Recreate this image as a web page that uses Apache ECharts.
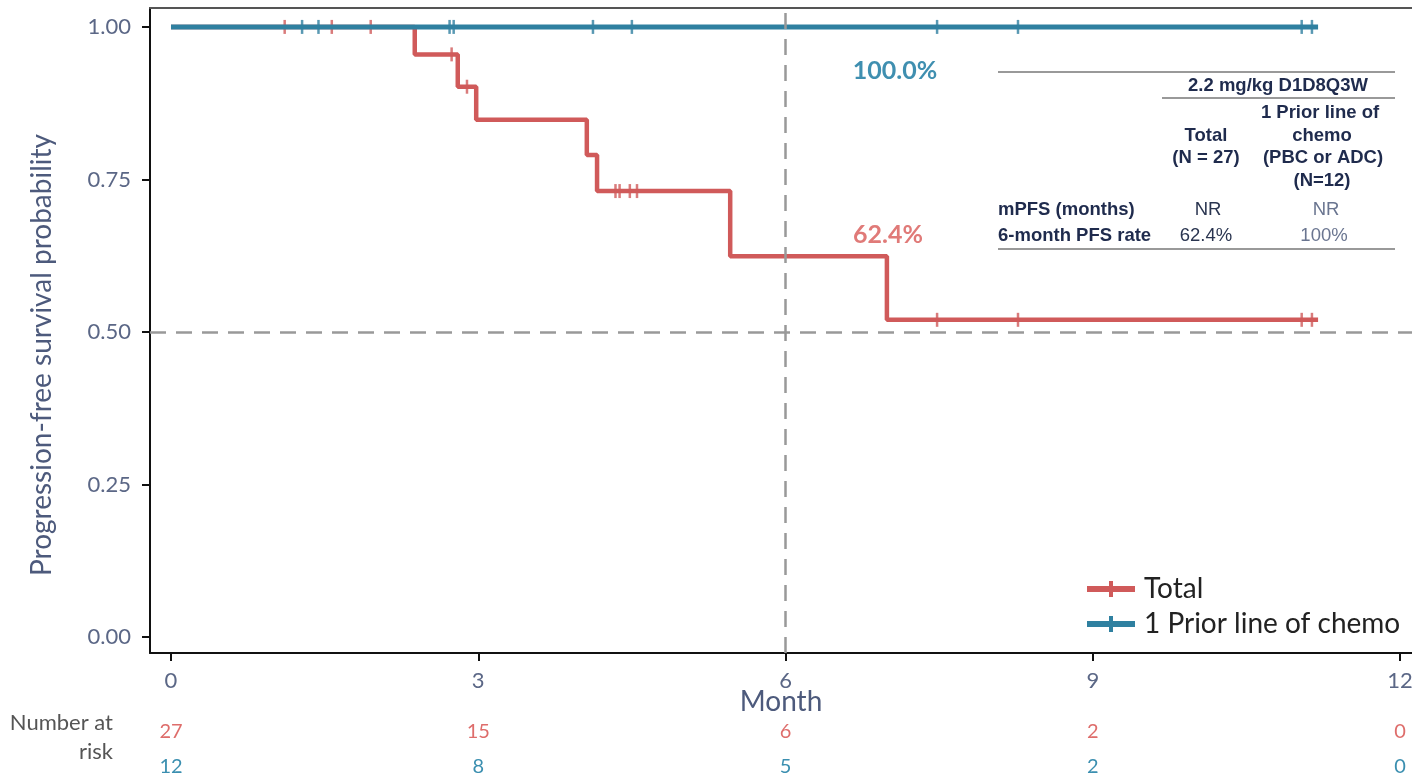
<!DOCTYPE html>
<html>
<head>
<meta charset="utf-8">
<script src="https://cdn.jsdelivr.net/npm/echarts@6/dist/echarts.min.js"></script>
<style>
  html, body { margin: 0; padding: 0; background: #fff; }
  #chart { width: 1412px; height: 777px; }
</style>
</head>
<body>
<div id="chart"></div>
<script>
// tick labels
const monthTicks = [0, 3, 6, 9, 12];
const probTicks = [0, 0.25, 0.5, 0.75, 1];

// KM curve, Total (N = 27): time of each step and survival after it
const totalTimes = [0, 2.38, 2.80, 2.98, 4.06, 4.16, 5.46, 6.99, 11.2];
const totalSurv = [1, 0.955, 0.902, 0.848, 0.790, 0.731, 0.624, 0.520, 0.520];
// censored patients, Total
const totalCensorTimes = [1.11, 1.57, 1.95, 2.74, 2.89, 4.34, 4.38, 4.48, 4.55, 7.48, 8.27, 11.04, 11.14];
const totalCensorSurv = [1, 1, 1, 0.955, 0.902, 0.731, 0.731, 0.731, 0.731, 0.520, 0.520, 0.520, 0.520];

// KM curve, 1 prior line of chemo (N = 12)
const chemoTimes = [0, 11.2];
const chemoSurv = [1, 1];
const chemoCensorTimes = [1.28, 1.44, 2.72, 2.76, 4.12, 4.50, 7.48, 8.27, 11.04, 11.14];
const chemoCensorSurv = [1, 1, 1, 1, 1, 1, 1, 1, 1, 1];

// number at risk at each month tick
const riskTotal = [27, 15, 6, 2, 0];
const riskChemo = [12, 8, 5, 2, 0];

const RED = '#d05a5a';
const BLUE = '#2f80a0';
const AXIS_TXT = '#5b6786';
const TABLE_TXT = '#1f2b4d';

function pairs(xs, ys) {
  return xs.map((x, i) => [x, ys[i]]);
}

const chart = echarts.init(document.getElementById('chart'));

// axis ranges a little wider than the data, like ggplot's expansion
const xMin = -0.205, xMax = 12.117;
const yMin = -0.026, yMax = 1.031;

function riskAxis(arr, color, offset) {
  return {
    type: 'value', min: xMin, max: xMax, position: 'bottom', offset: offset,
    axisLine: { show: false }, axisTick: { show: false }, splitLine: { show: false },
    axisLabel: {
      customValues: monthTicks, margin: 8, fontSize: 20, color: color, fontFamily: 'Lato',
      formatter: v => String(arr[monthTicks.indexOf(v)])
    }
  };
}

function tableText(text, x, y, opts) {
  return {
    type: 'text', x: x, y: y,
    style: Object.assign({ text: text, fontSize: 18.5, fontWeight: 'bold', fill: TABLE_TXT,
      fontFamily: 'Liberation Sans', align: 'center', verticalAlign: 'middle' }, opts || {})
  };
}

const option = {
  animation: false,
  grid: { left: 150, right: 0, top: 8, bottom: 124, outerBoundsMode: 'none', containLabel: false },
  legend: {
    orient: 'vertical', left: 1082, top: 570, itemGap: 7,
    itemWidth: 48, itemHeight: 16,
    data: [
      { name: 'Total', icon: 'path://M0,5h48v6h-48z M22,0h4v16h-4z' },
      { name: '1 Prior line of chemo', icon: 'path://M0,5h48v6h-48z M22,0h4v16h-4z' }
    ],
    textStyle: { fontSize: 28, color: '#222', fontFamily: 'Lato', padding: [0, 0, 0, 4] }
  },
  xAxis: [
    {
      type: 'value', min: xMin, max: xMax,
      name: 'Month', nameLocation: 'middle', nameGap: 35, nameMoveOverlap: false,
      nameTextStyle: { fontSize: 28, color: '#4d5a7c', fontFamily: 'Lato' },
      axisLine: { onZero: false, lineStyle: { color: '#111', width: 2 } },
      axisTick: { customValues: monthTicks, length: 8, lineStyle: { color: '#111', width: 2 } },
      axisLabel: { customValues: monthTicks, fontSize: 22, color: AXIS_TXT, fontFamily: 'Lato', margin: 17 },
      splitLine: { show: false }
    },
    riskAxis(riskTotal, '#de6d6b', 61),
    riskAxis(riskChemo, '#3b8fb0', 96),
    {
      // top border of the panel
      type: 'value', min: xMin, max: xMax, position: 'top',
      axisLine: { show: true, onZero: false, lineStyle: { color: '#555', width: 2 } },
      axisTick: { show: false }, axisLabel: { show: false }, splitLine: { show: false }
    }
  ],
  yAxis: {
    type: 'value', min: yMin, max: yMax,
    axisLine: { show: true, onZero: false, lineStyle: { color: '#111', width: 2 } },
    axisTick: { show: true, customValues: probTicks, length: 8, lineStyle: { color: '#111', width: 2 } },
    axisLabel: {
      customValues: probTicks, fontSize: 22, color: AXIS_TXT, fontFamily: 'Lato', margin: 19,
      formatter: v => v.toFixed(2)
    },
    splitLine: { show: false }
  },
  series: [
    {
      name: 'Total', type: 'line', step: 'end', showSymbol: false,
      data: pairs(totalTimes, totalSurv),
      lineStyle: { color: RED, width: 4.5 }, itemStyle: { color: RED },
      markLine: {
        silent: true, symbol: 'none', label: { show: false },
        lineStyle: { color: '#999', width: 2.5, type: [16, 10] },
        data: [{ xAxis: 6 }, { yAxis: 0.5 }]
      },
      z: 3
    },
    {
      name: 'Total', type: 'scatter', data: pairs(totalCensorTimes, totalCensorSurv),
      symbol: 'rect', symbolSize: [2.5, 14], itemStyle: { color: RED }, z: 3
    },
    {
      name: '1 Prior line of chemo', type: 'line', step: 'end', showSymbol: false,
      data: pairs(chemoTimes, chemoSurv),
      lineStyle: { color: BLUE, width: 5 }, itemStyle: { color: BLUE }, z: 4
    },
    {
      name: '1 Prior line of chemo', type: 'scatter', data: pairs(chemoCensorTimes, chemoCensorSurv),
      symbol: 'rect', symbolSize: [2.5, 14], itemStyle: { color: BLUE }, z: 4
    }
  ],
  graphic: [
    {
      type: 'text', x: 42, y: 355, rotation: Math.PI / 2,
      style: { text: 'Progression-free survival probability', fontSize: 28, fill: '#4d5a7c',
               fontFamily: 'Lato', align: 'center', verticalAlign: 'middle' }
    },
    { type: 'text', x: 113, y: 723, style: { text: 'Number at', fontSize: 22, fill: '#555', fontFamily: 'Lato', align: 'right', verticalAlign: 'middle' } },
    { type: 'text', x: 113, y: 752, style: { text: 'risk', fontSize: 22, fill: '#555', fontFamily: 'Lato', align: 'right', verticalAlign: 'middle' } },
    { type: 'text', x: 895, y: 71, style: { text: '100.0%', fontSize: 25, fontWeight: 'bold', fill: '#3f8fb0', fontFamily: 'Lato', align: 'center', verticalAlign: 'middle' } },
    { type: 'text', x: 888, y: 235, style: { text: '62.4%', fontSize: 25, fontWeight: 'bold', fill: '#e07a78', fontFamily: 'Lato', align: 'center', verticalAlign: 'middle' } },
    // summary table
    { type: 'line', shape: { x1: 998, y1: 72, x2: 1395, y2: 72 }, style: { stroke: '#999', lineWidth: 2 } },
    { type: 'line', shape: { x1: 1162, y1: 98, x2: 1395, y2: 98 }, style: { stroke: '#999', lineWidth: 2 } },
    { type: 'line', shape: { x1: 998, y1: 249, x2: 1395, y2: 249 }, style: { stroke: '#999', lineWidth: 2 } },
    tableText('2.2 mg/kg D1D8Q3W', 1278, 86),
    tableText('Total', 1206, 136),
    tableText('(N = 27)', 1206, 158),
    tableText('1 Prior line of', 1320, 113),
    tableText('chemo', 1322, 136),
    tableText('(PBC or ADC)', 1323, 158),
    tableText('(N=12)', 1322, 181),
    tableText('mPFS (months)', 998, 210, { align: 'left' }),
    tableText('6-month PFS rate', 998, 236, { align: 'left' }),
    tableText('NR', 1208, 210, { fontWeight: 'normal', fill: '#2a3550' }),
    tableText('62.4%', 1206, 236, { fontWeight: 'normal', fill: '#2a3550' }),
    tableText('NR', 1326, 210, { fontWeight: 'normal', fill: '#6a7590' }),
    tableText('100%', 1324, 236, { fontWeight: 'normal', fill: '#6a7590' })
  ]
};

chart.setOption(option);
</script>
</body>
</html>
